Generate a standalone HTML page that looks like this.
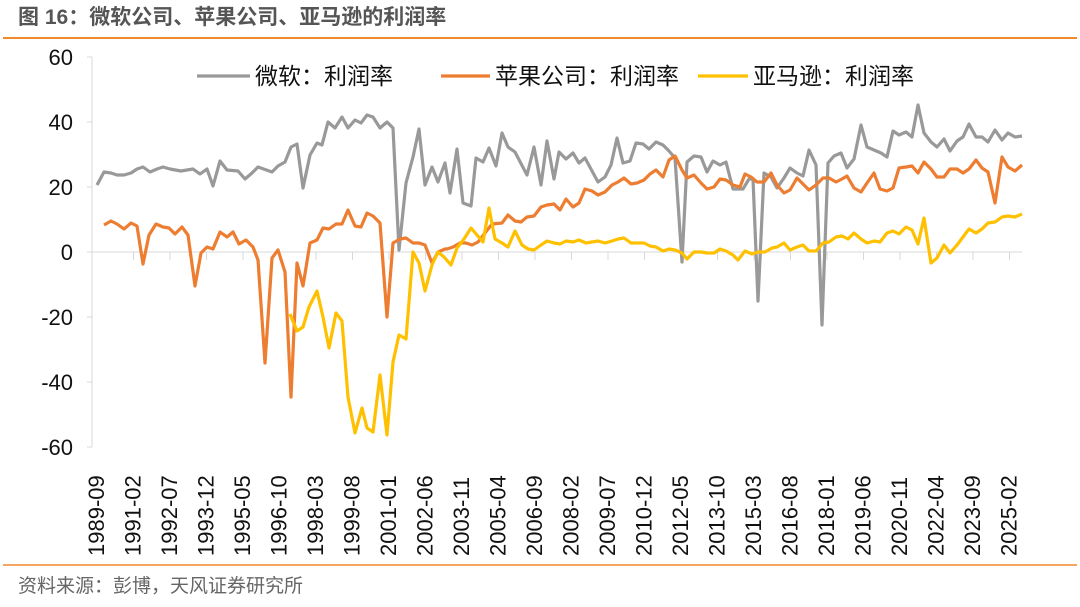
<!DOCTYPE html>
<html><head><meta charset="utf-8"><style>
body{margin:0;background:#fff;width:1080px;height:607px;overflow:hidden}
svg{display:block}
text{font-family:"Liberation Sans","Noto Sans CJK SC",sans-serif}
</style></head><body>
<svg width="1080" height="607" viewBox="0 0 1080 607">
<text x="18" y="24" font-size="21" font-weight="bold" fill="#555">图 16：微软公司、苹果公司、亚马逊的利润率</text>
<line x1="3" y1="38" x2="1077" y2="38" stroke="#F08A2C" stroke-width="2"/>
<line x1="3" y1="565" x2="1077" y2="565" stroke="#F08A2C" stroke-width="1.5"/>
<text x="18" y="592" font-size="19" fill="#666">资料来源：彭博，天风证券研究所</text>
<g stroke="#d9d9d9" stroke-width="1">
<line x1="92" y1="57" x2="92" y2="447"/>
<line x1="87" y1="57" x2="92" y2="57"/><line x1="87" y1="122" x2="92" y2="122"/><line x1="87" y1="187" x2="92" y2="187"/><line x1="87" y1="252" x2="92" y2="252"/><line x1="87" y1="317" x2="92" y2="317"/><line x1="87" y1="382" x2="92" y2="382"/><line x1="87" y1="447" x2="92" y2="447"/>
<line x1="92" y1="252" x2="1022" y2="252"/>
</g>
<g id="ticks" stroke="#d9d9d9"></g>
<g font-size="22" fill="#111" text-anchor="end">
<text x="73" y="65">60</text><text x="73" y="130">40</text><text x="73" y="195">20</text><text x="73" y="260">0</text><text x="73" y="325">-20</text><text x="73" y="390">-40</text><text x="73" y="455">-60</text>
</g>
<g id="xl" font-size="22" fill="#111"></g>
<g fill="none" stroke-width="3.2" stroke-linejoin="round">
<polyline stroke="#999" points="97,185 104,172 111,173 117,175 124,175 131,173 137,169 143,167 150,172 157,169 163,167 170,169 181,171 193,169 200,174 207,169 213,186 220,161 227,170 238,171 245,179 252,173 258,167 272,172 278,166 285,162 291,147 297,144 303,188 310,155 317,143 322,145 328,122 335,128 342,117 348,128 355,120 361,123 367,115 373,117 380,128 387,122 393,128 399,250 406,183 413,157 419,129 425,185 432,167 438,182 445,163 450,193 457,149 463,203 471,206 476,158 483,162 489,148 496,166 502,133 508,147 515,152 527,175 534,147 541,185 547,141 554,179 559,152 566,159 573,153 579,163 585,158 598,182 605,177 611,165 617,138 623,163 630,161 636,143 643,144 649,149 656,142 663,145 669,151 675,158 682,262 687,162 694,156 701,157 707,172 713,161 720,165 726,162 733,189 740,189 743,189 749,179 753,179 758,301 764,173 771,177 777,188 784,178 790,168 797,173 803,176 809,150 816,165 822,325 828,163 834,156 841,153 847,168 854,159 861,125 867,147 874,150 881,153 887,157 893,131 899,135 906,132 912,137 918,105 924,133 931,142 937,147 944,139 950,151 957,141 963,137 969,124 976,137 982,137 988,142 995,130 1002,140 1008,133 1015,137 1022,136"/>
<polyline stroke="#ED7D31" points="104,225 111,221 117,224 124,229 131,223 137,226 143,264 149,235 156,224 163,227 169,228 175,234 182,227 188,235 195,286 201,253 207,247 213,249 220,232 227,237 233,232 239,244 246,240 253,247 258,260 265,363 272,258 278,250 285,272 291,397 297,263 303,286 310,243 317,240 323,228 329,229 336,224 342,224 348,210 355,226 361,227 367,213 373,216 380,223 387,317 393,243 400,239 406,238 413,243 419,243 425,245 432,263 438,252 445,249 447,249 453,247 460,243 466,243 472,245 478,242 485,233 492,224 502,223 508,215 515,221 521,222 527,217 534,216 541,207 547,205 554,204 560,210 566,199 573,207 579,203 585,189 592,191 598,195 605,192 612,185 618,182 624,178 631,184 637,183 644,180 650,174 656,170 663,177 669,160 675,156 682,170 687,178 694,175 701,183 707,189 714,187 720,179 726,180 733,185 740,187 745,174 751,177 757,182 764,182 771,173 777,185 784,193 790,190 797,178 803,184 809,190 816,185 823,178 829,178 836,182 842,179 847,176 854,188 861,192 867,183 874,173 880,189 887,191 893,188 899,168 906,167 912,166 918,173 924,162 931,169 937,177 944,177 950,169 957,169 963,173 969,169 976,160 982,168 988,172 995,203 1002,157 1008,167 1015,171 1022,165"/>
<polyline stroke="#FFC000" points="290,314 297,331 303,327 309,307 317,291 323,317 329,348 336,313 342,321 348,397 355,433 362,408 367,428 373,432 380,375 387,435 393,362 399,335 406,339 413,252 419,263 425,291 432,265 438,252 444,257 451,265 457,248 464,239 471,228 477,235 483,242 489,208 495,239 502,243 508,247 515,231 522,245 528,249 534,250 541,245 547,241 554,243 560,244 566,241 573,242 579,240 586,243 592,242 598,241 605,243 612,241 618,239 624,238 631,243 637,243 644,243 650,246 656,247 663,251 669,249 675,250 682,253 687,259 694,252 701,252 707,253 714,253 720,249 726,251 733,255 738,260 745,251 752,254 758,252 765,252 772,248 777,247 784,243 790,250 797,247 803,245 809,251 816,251 823,243 829,242 836,237 842,236 848,239 854,233 861,239 867,243 874,241 880,242 887,233 893,231 899,234 906,227 912,230 918,244 924,218 931,263 937,258 944,245 950,253 957,245 963,237 969,229 976,233 982,229 988,223 995,222 1002,217 1008,216 1015,217 1022,214"/>
</g>
<g font-size="23" fill="#111">
<line x1="197" y1="76" x2="250" y2="76" stroke="#999" stroke-width="3.2"/>
<text x="255" y="84">微软：利润率</text>
<line x1="441" y1="76" x2="490" y2="76" stroke="#ED7D31" stroke-width="3.2"/>
<text x="495" y="84">苹果公司：利润率</text>
<line x1="698" y1="76" x2="748" y2="76" stroke="#FFC000" stroke-width="3.2"/>
<text x="753" y="84">亚马逊：利润率</text>
</g>
</svg>
<script>
var labs=["1989-09","1991-02","1992-07","1993-12","1995-05","1996-10","1998-03","1999-08","2001-01","2002-06","2003-11","2005-04","2006-09","2008-02","2009-07","2010-12","2012-05","2013-10","2015-03","2016-08","2018-01","2019-06","2020-11","2022-04","2023-09","2025-02"];
var ns="http://www.w3.org/2000/svg",g=document.getElementById("xl"),tk=document.getElementById("ticks");
labs.forEach(function(l,i){var x=97+i*36.5;var t=document.createElementNS(ns,"text");
t.setAttribute("transform","translate("+(x+7)+",556) rotate(-90)");t.textContent=l;g.appendChild(t);
if(i>0){var ln=document.createElementNS(ns,"line");ln.setAttribute("x1",x);ln.setAttribute("x2",x);ln.setAttribute("y1",252);ln.setAttribute("y2",260);tk.appendChild(ln);}});
</script>
</body></html>
